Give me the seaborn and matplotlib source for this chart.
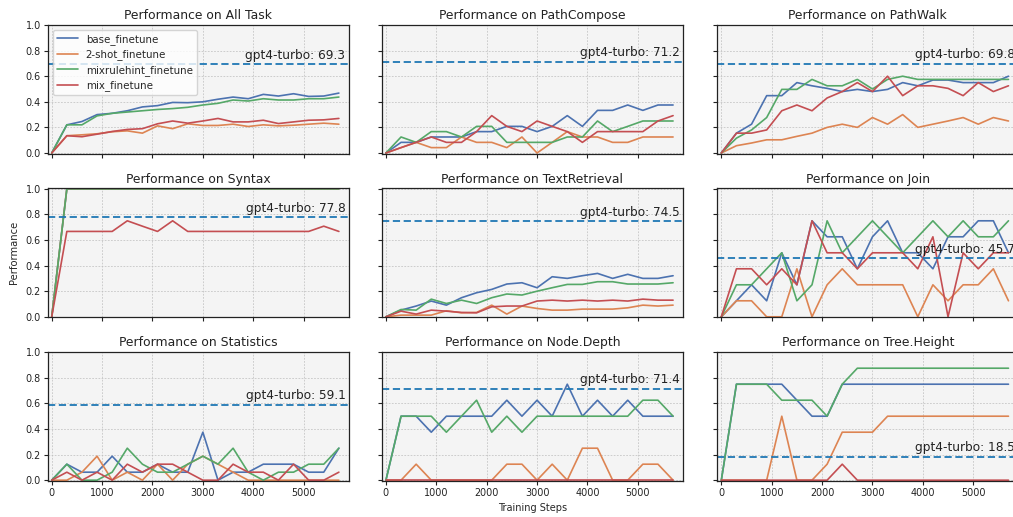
import matplotlib
matplotlib.use("Agg")
import matplotlib.pyplot as plt
import seaborn as sns
import pandas as pd

steps = [0, 300, 600, 900, 1200, 1500, 1800, 2100, 2400, 2700,
         3000, 3300, 3600, 3900, 4200, 4500, 4800, 5100, 5400, 5700]

methods = ["base_finetune", "2-shot_finetune", "mixrulehint_finetune", "mix_finetune"]

tasks = ["All Task", "PathCompose", "PathWalk", "Syntax", "TextRetrieval", "Join",
         "Statistics", "Node.Depth", "Tree.Height"]

gpt4_scores = [69.3, 71.2, 69.8, 77.8, 74.5, 45.7, 59.1, 71.4, 18.5]

all_base = [0, 0.22, 0.246, 0.30, 0.31, 0.33, 0.36, 0.37, 0.395, 0.393, 0.40, 0.42, 0.437, 0.424, 0.458, 0.445, 0.463, 0.442, 0.445, 0.468]
all_2shot = [0, 0.135, 0.142, 0.15, 0.166, 0.173, 0.155, 0.212, 0.19, 0.228, 0.215, 0.215, 0.225, 0.207, 0.22, 0.212, 0.217, 0.225, 0.233, 0.225]
all_mixr = [0, 0.22, 0.22, 0.29, 0.31, 0.32, 0.33, 0.34, 0.347, 0.357, 0.375, 0.388, 0.414, 0.406, 0.424, 0.414, 0.414, 0.424, 0.424, 0.437]
all_mix = [0, 0.135, 0.127, 0.147, 0.168, 0.184, 0.19, 0.228, 0.25, 0.233, 0.25, 0.27, 0.243, 0.243, 0.256, 0.23, 0.243, 0.256, 0.259, 0.27]

pc_base = [0, 0.083, 0.083, 0.125, 0.125, 0.125, 0.167, 0.167, 0.208, 0.208, 0.167, 0.208, 0.292, 0.208, 0.333, 0.333, 0.375, 0.333, 0.375, 0.375]
pc_2shot = [0, 0.042, 0.083, 0.042, 0.042, 0.125, 0.083, 0.083, 0.042, 0.125, 0, 0.083, 0.167, 0.125, 0.125, 0.083, 0.083, 0.125, 0.125, 0.125]
pc_mixr = [0, 0.125, 0.083, 0.167, 0.167, 0.125, 0.208, 0.208, 0.083, 0.083, 0.083, 0.083, 0.125, 0.125, 0.25, 0.167, 0.208, 0.25, 0.25, 0.25]
pc_mix = [0, 0.042, 0.083, 0.125, 0.083, 0.083, 0.167, 0.292, 0.208, 0.167, 0.25, 0.208, 0.167, 0.083, 0.167, 0.167, 0.167, 0.167, 0.25, 0.292]

pw_base = [0, 0.155, 0.225, 0.448, 0.448, 0.55, 0.525, 0.505, 0.48, 0.497, 0.48, 0.497, 0.55, 0.525, 0.57, 0.57, 0.55, 0.55, 0.55, 0.60]
pw_2shot = [0, 0.057, 0.078, 0.103, 0.103, 0.13, 0.155, 0.2, 0.225, 0.2, 0.277, 0.225, 0.30, 0.2, 0.225, 0.25, 0.277, 0.225, 0.277, 0.25]
pw_mixr = [0, 0.116, 0.18, 0.277, 0.497, 0.497, 0.575, 0.525, 0.525, 0.575, 0.5, 0.575, 0.6, 0.575, 0.575, 0.575, 0.575, 0.575, 0.575, 0.575]
pw_mix = [0, 0.155, 0.155, 0.18, 0.33, 0.375, 0.33, 0.43, 0.48, 0.55, 0.48, 0.60, 0.448, 0.525, 0.525, 0.505, 0.448, 0.55, 0.48, 0.525]

sy_base = [0, 1, 1, 1, 1, 1, 1, 1, 1, 1, 1, 1, 1, 1, 1, 1, 1, 1, 1, 1]
sy_2shot = [0, 1, 1, 1, 1, 1, 1, 1, 1, 1, 1, 1, 1, 1, 1, 1, 1, 1, 1, 1]
sy_mixr = [0, 1, 1, 1, 1, 1, 1, 1, 1, 1, 1, 1, 1, 1, 1, 1, 1, 1, 1, 1]
sy_mix = [0, 0.667, 0.667, 0.667, 0.667, 0.75, 0.708, 0.667, 0.75, 0.667, 0.667, 0.667, 0.667, 0.667, 0.667, 0.667, 0.667, 0.667, 0.708, 0.667]

tr_base = [0, 0.052, 0.084, 0.123, 0.091, 0.149, 0.188, 0.214, 0.256, 0.266, 0.227, 0.313, 0.30, 0.321, 0.339, 0.30, 0.332, 0.30, 0.30, 0.321]
tr_2shot = [0, 0.013, 0.013, 0.013, 0.047, 0.031, 0.034, 0.091, 0.021, 0.084, 0.065, 0.052, 0.052, 0.06, 0.06, 0.06, 0.07, 0.091, 0.084, 0.091]
tr_mixr = [0, 0.057, 0.052, 0.138, 0.104, 0.13, 0.104, 0.149, 0.178, 0.17, 0.20, 0.227, 0.253, 0.253, 0.274, 0.274, 0.256, 0.256, 0.256, 0.266]
tr_mix = [0, 0.044, 0.021, 0.052, 0.044, 0.034, 0.031, 0.078, 0.084, 0.084, 0.123, 0.13, 0.123, 0.13, 0.123, 0.13, 0.123, 0.138, 0.13, 0.13]

jo_base = [0, 0.125, 0.25, 0.125, 0.5, 0.25, 0.75, 0.625, 0.625, 0.375, 0.625, 0.75, 0.5, 0.5, 0.375, 0.625, 0.625, 0.75, 0.75, 0.5]
jo_2shot = [0, 0.125, 0.125, 0, 0, 0.375, 0, 0.25, 0.375, 0.25, 0.25, 0.25, 0.25, 0, 0.25, 0.125, 0.25, 0.25, 0.375, 0.125]
jo_mixr = [0, 0.25, 0.25, 0.375, 0.5, 0.125, 0.25, 0.75, 0.5, 0.625, 0.75, 0.625, 0.5, 0.625, 0.75, 0.625, 0.75, 0.625, 0.625, 0.75]
jo_mix = [0, 0.375, 0.375, 0.25, 0.375, 0.25, 0.75, 0.5, 0.5, 0.375, 0.5, 0.5, 0.5, 0.375, 0.625, 0, 0.5, 0.375, 0.5, 0.5]

st_base = [0, 0.125, 0.0625, 0.0625, 0.1875, 0.0625, 0.0625, 0.125, 0.0625, 0.0625, 0.375, 0, 0.0625, 0.0625, 0.125, 0.125, 0.125, 0.0625, 0.0625, 0.25]
st_2shot = [0, 0, 0.0625, 0.1875, 0, 0.0625, 0, 0.125, 0, 0.125, 0.1875, 0.125, 0.0625, 0, 0, 0, 0, 0, 0, 0]
st_mixr = [0, 0.125, 0, 0, 0.0625, 0.25, 0.125, 0.0625, 0.0625, 0.125, 0.1875, 0.125, 0.25, 0.0625, 0, 0.0625, 0.0625, 0.125, 0.125, 0.25]
st_mix = [0, 0.0625, 0, 0.0625, 0, 0.125, 0.0625, 0.125, 0.125, 0.0625, 0, 0, 0.125, 0.0625, 0.0625, 0, 0.125, 0, 0, 0.0625]

nd_base = [0, 0.5, 0.5, 0.375, 0.5, 0.5, 0.5, 0.5, 0.625, 0.5, 0.625, 0.5, 0.75, 0.5, 0.625, 0.5, 0.625, 0.5, 0.5, 0.5]
nd_2shot = [0, 0, 0.125, 0, 0, 0, 0, 0, 0.125, 0.125, 0, 0.125, 0, 0.25, 0.25, 0, 0, 0.125, 0.125, 0]
nd_mixr = [0, 0.5, 0.5, 0.5, 0.375, 0.5, 0.625, 0.375, 0.5, 0.375, 0.5, 0.5, 0.5, 0.5, 0.5, 0.5, 0.5, 0.625, 0.625, 0.5]
nd_mix = [0, 0, 0, 0, 0, 0, 0, 0, 0, 0, 0, 0, 0, 0, 0, 0, 0, 0, 0, 0]

th_base = [0, 0.75, 0.75, 0.75, 0.75, 0.625, 0.5, 0.5, 0.75, 0.75, 0.75, 0.75, 0.75, 0.75, 0.75, 0.75, 0.75, 0.75, 0.75, 0.75]
th_2shot = [0, 0, 0, 0, 0.5, 0, 0, 0.125, 0.375, 0.375, 0.375, 0.5, 0.5, 0.5, 0.5, 0.5, 0.5, 0.5, 0.5, 0.5]
th_mixr = [0, 0.75, 0.75, 0.75, 0.625, 0.625, 0.625, 0.5, 0.75, 0.875, 0.875, 0.875, 0.875, 0.875, 0.875, 0.875, 0.875, 0.875, 0.875, 0.875]
th_mix = [0, 0, 0, 0, 0, 0, 0, 0, 0.125, 0, 0, 0, 0, 0, 0, 0, 0, 0, 0, 0]

task_series = [
    [all_base, all_2shot, all_mixr, all_mix],
    [pc_base, pc_2shot, pc_mixr, pc_mix],
    [pw_base, pw_2shot, pw_mixr, pw_mix],
    [sy_base, sy_2shot, sy_mixr, sy_mix],
    [tr_base, tr_2shot, tr_mixr, tr_mix],
    [jo_base, jo_2shot, jo_mixr, jo_mix],
    [st_base, st_2shot, st_mixr, st_mix],
    [nd_base, nd_2shot, nd_mixr, nd_mix],
    [th_base, th_2shot, th_mixr, th_mix],
]

sns.set_style("ticks")
plt.rcParams["font.family"] = ["DejaVu Sans"]
palette = sns.color_palette("deep", 4)

W, H = 1013, 517
fig = plt.figure(figsize=(W / 100, H / 100), dpi=100)

col_left = [47.7, 381.9, 717.3]
row_top = [24.5, 188.3, 351.7]
aw, ah = 301.0, 129.0

axes = []
for i, task in enumerate(tasks):
    r, c = divmod(i, 3)
    ax = fig.add_axes([col_left[c] / W, 1 - (row_top[r] + ah) / H, aw / W, ah / H])
    axes.append(ax)
    ax.set_facecolor("#f4f4f4")
    for m, (name, vals) in enumerate(zip(methods, task_series[i])):
        df = pd.DataFrame({"step": steps, "perf": vals})
        sns.lineplot(data=df, x="step", y="perf", ax=ax, color=palette[m],
                     label=name if i == 0 else None, linewidth=1.2, legend=False)
    g = gpt4_scores[i] / 100
    ax.axhline(g, color="#1f77b4", linestyle="--", linewidth=1.3, dashes=(4, 2))
    ax.text(0.989, g + 0.02, f"gpt4-turbo: {gpt4_scores[i]}", transform=ax.get_yaxis_transform(),
            ha="right", va="bottom", fontsize=8.7, color="#222222")
    ax.set_xlim(-80, 5895)
    ax.set_ylim(-0.004, 1.004)
    ax.set_xticks([0, 1000, 2000, 3000, 4000, 5000])
    ax.set_yticks([0.0, 0.2, 0.4, 0.6, 0.8, 1.0])
    ax.grid(True, linestyle=(0, (2.5, 2)), linewidth=0.5, color="#bdbdbd")
    ax.set_axisbelow(True)
    ax.set_title(f"Performance on {task}", fontsize=8.9, pad=4, color="#222222")
    ax.tick_params(labelsize=6.9, length=3, width=0.8, pad=2, colors="#222222")
    for s in ax.spines.values():
        s.set_color("#222222")
        s.set_linewidth(0.9)
    ax.set_xlabel("")
    ax.set_ylabel("")
    if c != 0:
        ax.set_yticklabels([])
    else:
        ax.set_yticklabels(["0.0", "0.2", "0.4", "0.6", "0.8", "1.0"])
    if r != 2:
        ax.set_xticklabels([])
    if i == 0:
        ax.legend(loc="upper left", fontsize=7.4, frameon=True, handlelength=2.0,
                  borderaxespad=0.5, labelspacing=0.45)

axes[3].set_ylabel("Performance", fontsize=7.2, labelpad=5)
axes[7].set_xlabel("Training Steps", fontsize=7.0, labelpad=4)

fig.savefig("out.png", dpi=100)
